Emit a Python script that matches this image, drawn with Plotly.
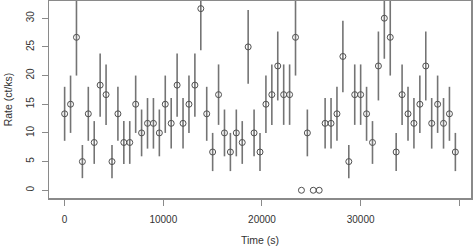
import plotly.graph_objects as go

time_s = [0, 600, 1200, 1800, 2400, 3000, 3600, 4200, 4800, 5400,
          6000, 6600, 7200, 7800, 8400, 9000, 9600, 10200, 10800, 11400,
          12000, 12600, 13200, 13800, 14400, 15000, 15600, 16200, 16800, 17400,
          18000, 18600, 19200, 19800, 20400, 21000, 21600, 22200, 22800, 23400,
          24000, 24600, 25200, 25800, 26400, 27000, 27600, 28200, 28800, 29400,
          30000, 30600, 31200, 31800, 32400, 33000, 33600, 34200, 34800, 35400,
          36000, 36600, 37200, 37800, 38400, 39000, 39600]

rate = [13.33, 15.0, 26.67, 5.0, 13.33, 8.33, 18.33, 16.67, 5.0, 13.33,
        8.33, 8.33, 15.0, 10.0, 11.67, 11.67, 10.0, 15.0, 11.67, 18.33,
        11.67, 15.0, 18.33, 31.67, 13.33, 6.67, 16.67, 10.0, 6.67, 10.0,
        8.33, 25.0, 10.0, 6.67, 15.0, 16.67, 21.67, 16.67, 16.67, 26.67,
        0.0, 10.0, 0.0, 0.0, 11.67, 11.67, 13.33, 23.33, 5.0, 16.67,
        16.67, 13.33, 8.33, 21.67, 30.0, 26.67, 6.67, 16.67, 13.33, 11.67,
        15.0, 21.67, 11.67, 15.0, 11.67, 13.33, 6.67]

rate_err = [4.71, 5.0, 6.67, 2.89, 4.71, 3.73, 5.53, 5.27, 2.89, 4.71,
            3.73, 3.73, 5.0, 4.08, 4.41, 4.41, 4.08, 5.0, 4.41, 5.53,
            4.41, 5.0, 5.53, 7.26, 4.71, 3.33, 5.27, 4.08, 3.33, 4.08,
            3.73, 6.45, 4.08, 3.33, 5.0, 5.27, 6.01, 5.27, 5.27, 6.67,
            0.0, 4.08, 0.0, 0.0, 4.41, 4.41, 4.71, 6.24, 2.89, 5.27,
            5.27, 4.71, 3.73, 6.01, 7.07, 6.67, 3.33, 5.27, 4.71, 4.41,
            5.0, 6.01, 4.41, 5.0, 4.41, 4.71, 3.33]

x_ticks = [0, 10000, 20000, 30000, 40000]
y_ticks = [0, 5, 10, 15, 20, 25, 30]

font_family = "Liberation Sans, Arial, sans-serif"
grey_line = "#8a8a8a"
text_col = "#333333"

fig = go.Figure()
fig.add_trace(go.Scatter(
    x=time_s, y=rate, mode="markers",
    marker=dict(symbol="circle-open", size=6, color="#505050", line=dict(width=1, color="#505050")),
    error_y=dict(type="data", array=rate_err, visible=True, width=0, thickness=1.6, color="#747474"),
    cliponaxis=True, showlegend=False,
))

fig.update_layout(
    width=473, height=248,
    margin=dict(l=49, r=2, t=1, b=50, autoexpand=False),
    paper_bgcolor="white", plot_bgcolor="white",
    font=dict(family=font_family, size=10, color=text_col),
    xaxis=dict(
        range=[-1584, 41184], tickmode="array", tickvals=x_ticks,
        ticktext=[str(v) for v in x_ticks],
        showgrid=False, zeroline=False, automargin=False,
        showline=True, mirror=True, linecolor=grey_line, linewidth=1.5,
        ticks="outside", ticklen=6, tickwidth=1, tickcolor=grey_line,
        ticklabelstandoff=5,
        tickfont=dict(size=10, color=text_col),
        title=dict(text="Time (s)", font=dict(size=10.5, color=text_col), standoff=13),
    ),
    yaxis=dict(
        range=[-1.35, 33.0], tickmode="array", tickvals=y_ticks,
        ticktext=[str(v) for v in y_ticks],
        showgrid=False, zeroline=False, automargin=False,
        showline=True, mirror=True, linecolor=grey_line, linewidth=1.5,
        ticks="outside", ticklen=6, tickwidth=1, tickcolor=grey_line,
        tickangle=-90, ticklabelstandoff=4,
        tickfont=dict(size=10, color=text_col),
        title=dict(text="Rate (ct/ks)", font=dict(size=10.5, color=text_col), standoff=10),
    ),
)

fig.write_html("out.html", config={"displayModeBar": False, "staticPlot": True},
               post_script="document.body.style.margin='0';document.body.style.padding='0';")
